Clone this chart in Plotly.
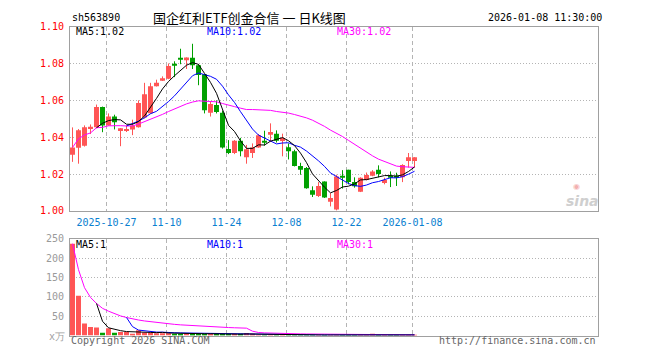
import math
import plotly.graph_objects as go

# ---------------- data ----------------
dates = ["2025-10-17", "2025-10-20", "2025-10-21", "2025-10-22", "2025-10-23", "2025-10-24",
         "2025-10-27", "2025-10-28", "2025-10-29", "2025-10-30", "2025-10-31",
         "2025-11-03", "2025-11-04", "2025-11-05", "2025-11-06", "2025-11-07",
         "2025-11-10", "2025-11-11", "2025-11-12", "2025-11-13", "2025-11-14",
         "2025-11-17", "2025-11-18", "2025-11-19", "2025-11-20", "2025-11-21",
         "2025-11-24", "2025-11-25", "2025-11-26", "2025-11-27", "2025-11-28",
         "2025-12-01", "2025-12-02", "2025-12-03", "2025-12-04", "2025-12-05",
         "2025-12-08", "2025-12-09", "2025-12-10", "2025-12-11", "2025-12-12",
         "2025-12-15", "2025-12-16", "2025-12-17", "2025-12-18", "2025-12-19",
         "2025-12-22", "2025-12-23", "2025-12-24", "2025-12-25", "2025-12-26",
         "2025-12-29", "2025-12-30", "2025-12-31", "2026-01-05", "2026-01-06",
         "2026-01-07", "2026-01-08"]

opens = [1.0305, 1.0342, 1.0354, 1.0444, 1.0454, 1.0564, 1.0464, 1.0512, 1.0433, 1.0433,
         1.0442, 1.0454, 1.0507, 1.0530, 1.0677, 1.0706, 1.0717, 1.0796, 1.0830, 1.0817,
         1.0831, 1.0791, 1.0741, 1.0533, 1.0575, 1.0533, 1.0336, 1.0314, 1.0380, 1.0291,
         1.0314, 1.0344, 1.0380, 1.0419, 1.0419, 1.0379, 1.0345, 1.0323, 1.0244, 1.0233,
         1.0112, 1.0080, 1.0159, 1.0049, 1.0007, 1.0188, 1.0223, 1.0156, 1.0103, 1.0168,
         1.0191, 1.0223, 1.0151, 1.0191, 1.0191, 1.0182, 1.0270, 1.0270]
highs = [1.0453, 1.0444, 1.0464, 1.0469, 1.0577, 1.0566, 1.0529, 1.0522, 1.0449, 1.0463,
         1.0495, 1.0600, 1.0695, 1.0695, 1.0712, 1.0730, 1.0800, 1.0812, 1.0880, 1.0833,
         1.0907, 1.0796, 1.0743, 1.0596, 1.0600, 1.0544, 1.0384, 1.0384, 1.0396, 1.0358,
         1.0366, 1.0417, 1.0435, 1.0475, 1.0437, 1.0419, 1.0366, 1.0332, 1.0261, 1.0238,
         1.0133, 1.0156, 1.0160, 1.0096, 1.0196, 1.0221, 1.0223, 1.0182, 1.0182, 1.0208,
         1.0221, 1.0247, 1.0180, 1.0214, 1.0207, 1.0253, 1.0314, 1.0291]
lows = [1.0266, 1.0256, 1.0349, 1.0417, 1.0450, 1.0427, 1.0462, 1.0442, 1.0351, 1.0428,
        1.0411, 1.0452, 1.0502, 1.0527, 1.0675, 1.0705, 1.0715, 1.0726, 1.0796, 1.0770,
        1.0770, 1.0682, 1.0529, 1.0512, 1.0529, 1.0338, 1.0308, 1.0308, 1.0296, 1.0256,
        1.0287, 1.0342, 1.0354, 1.0375, 1.0371, 1.0296, 1.0279, 1.0241, 1.0196, 1.0120,
        1.0075, 1.0075, 1.0070, 1.0024, 1.0002, 1.0121, 1.0144, 1.0126, 1.0102, 1.0165,
        1.0188, 1.0182, 1.0144, 1.0129, 1.0135, 1.0156, 1.0235, 1.0235]
closes = [1.0344, 1.0438, 1.0454, 1.0456, 1.0564, 1.0464, 1.0512, 1.0481, 1.0449, 1.0445,
          1.0463, 1.0585, 1.0633, 1.0677, 1.0695, 1.0720, 1.0786, 1.0790, 1.0825, 1.0832,
          1.0791, 1.0738, 1.0546, 1.0580, 1.0536, 1.0344, 1.0314, 1.0380, 1.0323, 1.0335,
          1.0344, 1.0410, 1.0375, 1.0428, 1.0380, 1.0396, 1.0324, 1.0244, 1.0223, 1.0123,
          1.0088, 1.0135, 1.0073, 1.0070, 1.0187, 1.0183, 1.0157, 1.0133, 1.0180, 1.0195,
          1.0214, 1.0200, 1.0168, 1.0180, 1.0180, 1.0249, 1.0291, 1.0291]
volumes = [237, 103, 31, 22.5, 21, 7.5, 19, 7.5, 9, 9,
           2.5, 14, 8, 8, 6, 6, 6, 5, 5, 6,
           5, 4, 4, 5, 4, 4, 3, 4, 4, 6.5,
           2.5, 2, 1.5, 1.8, 1.4, 1.8, 1.4, 1.4, 1.2, 1.8,
           1.4, 1.8, 1.4, 1.4, 1.8, 1.2, 1.4, 1.2, 1.8, 1.5,
           4, 1.5, 1.2, 1.5, 1.2, 1.5, 1.3, 1.5]

price_ticks = [1.00, 1.02, 1.04, 1.06, 1.08, 1.10]
price_ticktext = ["1.00", "1.02", "1.04", "1.06", "1.08", "1.10"]
vol_ticks = [50, 100, 150, 200, 250]
vol_ticktext = ["50", "100", "150", "200", "250"]
label_dates = ["2025-10-27", "2025-11-10", "2025-11-24", "2025-12-08", "2025-12-22", "2026-01-08"]
label_text = ["2025-10-27", "11-10", "11-24", "12-08", "12-22", "2026-01-08"]

title_code = "sh563890"
title_name = "国企红利ETF创金合信 一 日K线图"
title_time = "2026-01-08 11:30:00"

# ---------------- derived ----------------
n = len(dates)
idx = list(range(n))


def ma(vals, w, expanding=False):
    out = []
    for i in range(len(vals)):
        if i + 1 < w:
            out.append(sum(vals[:i + 1]) / (i + 1) if expanding else None)
        else:
            out.append(sum(vals[i + 1 - w:i + 1]) / w)
    return out


ma5, ma10, ma30 = ma(closes, 5), ma(closes, 10), ma(closes, 30, True)
vma5, vma10, vma30 = ma(volumes, 5), ma(volumes, 10), ma(volumes, 30, True)

UP = "#ff5555"
DOWN = "#00a000"
up = [c >= o for o, c in zip(opens, closes)]

tickpos = [dates.index(d) - 1 / 3 for d in label_dates]

fig = go.Figure()

# wicks
for flag, col in ((True, UP), (False, DOWN)):
    wx, wy = [], []
    for i in idx:
        if up[i] == flag:
            wx += [i, i, None]
            wy += [lows[i], highs[i], None]
    fig.add_trace(go.Scatter(x=wx, y=wy, mode="lines", line=dict(color=col, width=1),
                             hoverinfo="skip", showlegend=False, xaxis="x", yaxis="y"))

# bodies
for flag, col in ((True, UP), (False, DOWN)):
    bx = [i for i in idx if up[i] == flag]
    fig.add_trace(go.Bar(
        x=bx,
        base=[min(opens[i], closes[i]) for i in bx],
        y=[max(abs(closes[i] - opens[i]), 0.0003) for i in bx],
        width=0.83, marker=dict(color=col, line=dict(width=0)),
        showlegend=False, xaxis="x", yaxis="y"))

# price MAs
for vals, col in ((ma30, "#ff00ff"), (ma10, "#0000ff"), (ma5, "#000000")):
    fig.add_trace(go.Scatter(x=idx, y=vals, mode="lines", line=dict(color=col, width=1),
                             showlegend=False, xaxis="x", yaxis="y"))

# volume bars
for flag, col in ((True, UP), (False, DOWN)):
    bx = [i for i in idx if up[i] == flag]
    fig.add_trace(go.Bar(x=bx, y=[volumes[i] for i in bx], width=0.83,
                         marker=dict(color=col, line=dict(width=0)),
                         showlegend=False, xaxis="x2", yaxis="y2"))

for vals, col in ((vma30, "#ff00ff"), (vma10, "#0000ff"), (vma5, "#000000")):
    fig.add_trace(go.Scatter(x=idx, y=vals, mode="lines", line=dict(color=col, width=1),
                             showlegend=False, xaxis="x2", yaxis="y2"))

W, H = 660, 360
mono = "DejaVu Sans Mono"
xrange_ = [-0.4167, 87.5833]
xdom = [70 / W, 598 / W]

common_x = dict(range=xrange_, domain=xdom, tickmode="array", tickvals=tickpos,
                showgrid=True, gridcolor="#b4b4b4", griddash="4px,3px", gridwidth=1,
                showline=True, mirror=True, linecolor="#a0a0a0", linewidth=1,
                zeroline=False, ticks="", fixedrange=True)

fig.update_layout(
    width=W, height=H, margin=dict(l=0, r=0, t=0, b=0),
    paper_bgcolor="white", plot_bgcolor="white", barmode="overlay",
    showlegend=False,
    xaxis=dict(**common_x, anchor="y", ticktext=label_text, ticklabelstandoff=2,
               tickfont=dict(family=mono, size=10, color="#0a80d0")),
    xaxis2=dict(**common_x, anchor="y2", showticklabels=False),
    yaxis=dict(domain=[1 - 211.3 / H, 1 - 21.3 / H], range=[1.00, 1.10],
               tickmode="array", tickvals=price_ticks, ticktext=price_ticktext,
               tickfont=dict(family=mono, size=10, color="#ff0000"),
               showgrid=True, gridcolor="#b4b4b4", griddash="1px,2px",
               showline=True, mirror=True, linecolor="#a0a0a0", linewidth=1,
               zeroline=False, ticks="", ticklabelstandoff=3, anchor="x", fixedrange=True),
    yaxis2=dict(domain=[1 - 340 / H, 1 - 240 / H], range=[0, 250],
                tickmode="array", tickvals=vol_ticks, ticktext=vol_ticktext,
                tickfont=dict(family=mono, size=10, color="#9a9a9a"),
                showgrid=True, gridcolor="#b4b4b4", griddash="1px,2px",
                showline=True, mirror=True, linecolor="#a0a0a0", linewidth=1,
                zeroline=False, ticks="", ticklabelstandoff=3, anchor="x2", fixedrange=True),
)


def ann(text, x, y, color="#000", size=10, family=mono, xanchor="left", **kw):
    fig.add_annotation(text=text, x=x / W, y=1 - y / H, xref="paper", yref="paper",
                       showarrow=False, xanchor=xanchor, yanchor="middle",
                       font=dict(family=family, size=size, color=color), **kw)


ann(title_code, 70, 12, "#000", 10)
ann(title_name, 151, 12, "#000", 13, family="Noto Sans CJK SC")
ann(title_time, 486, 12, "#000", 10)

ann(f"MA5:{ma5[-1]:.2f}", 74, 26.5, "#000000")
ann(f"MA10:{ma10[-1]:.2f}", 205, 26.5, "#0000ff")
ann(f"MA30:{ma30[-1]:.2f}", 335, 26.5, "#ff00ff")

ann(f"MA5:{math.floor(vma5[-1])}", 74, 246.5, "#000000")
ann(f"MA10:{math.floor(vma10[-1])}", 205, 246.5, "#0000ff")
ann(f"MA30:{math.floor(vma30[-1])}", 335, 246.5, "#ff00ff")

ann("x万", 67, 341, "#a0a0a0", 10, xanchor="right")
ann("Copyright 2026 SINA.COM", 69, 345.5, "#666666", 10)
ann("http://finance.sina.com.cn", 598, 345.5, "#666666", 10, xanchor="right")

# sina watermark
ann("◉", 576, 186, "#f3b0b0", 8, family="DejaVu Sans", xanchor="center")
ann("<i><b>sina</b></i>", 582, 201, "#cfcfcf", 14, family="DejaVu Sans", xanchor="center")

fig.write_html("out.html")
